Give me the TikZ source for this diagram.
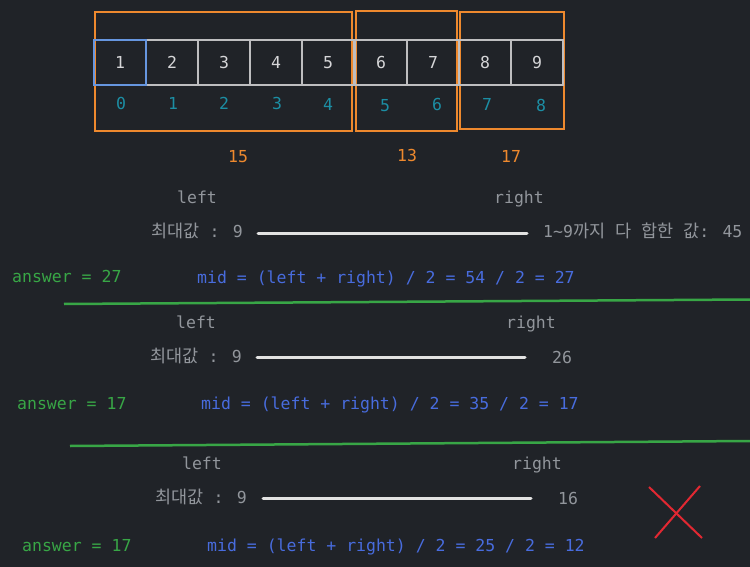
\documentclass[tikz,border=0pt]{standalone}
\usepackage{fontspec}
\newfontfamily\mono{DejaVu Sans Mono}
\newfontfamily\kr[Scale=1.06]{Noto Sans CJK KR}
\definecolor{bg}{RGB}{32,35,40}
\definecolor{orng}{RGB}{238,137,46}
\definecolor{cellgray}{RGB}{190,190,192}
\definecolor{cellblue}{RGB}{102,150,224}
\definecolor{cellnum}{RGB}{214,214,216}
\definecolor{teal}{RGB}{28,142,164}
\definecolor{lbl}{RGB}{146,150,156}
\definecolor{grn}{RGB}{56,166,70}
\definecolor{blu}{RGB}{72,108,222}
\definecolor{barc}{RGB}{226,226,226}
\definecolor{redx}{RGB}{226,40,50}
\tikzset{
  txt/.style={font=\mono\fontsize{16.5}{18}\selectfont, inner sep=0pt, text height=12pt, text depth=0pt},
  cellbox/.style={draw=cellgray, line width=2.5pt, minimum width=52pt, minimum height=45pt, inner sep=0pt, text=cellnum, txt},
  idx/.style={txt, text=teal},
  obox/.style={draw=orng, line width=2.5pt},
  osum/.style={txt, text=orng},
  lbltxt/.style={txt, text=lbl},
  anstxt/.style={txt, text=grn, anchor=west},
  midtxt/.style={txt, text=blu, anchor=west},
  bar/.style={draw=barc, line width=3pt, line cap=round},
  sep/.style={draw=grn, line width=2.5pt},
  cross/.style={draw=redx, line width=2pt},
}
\begin{document}
\begin{tikzpicture}[x=1pt,y=-1pt]
\fill[bg] (0,0) rectangle (750,567);
\useasboundingbox (0,0) rectangle (750,567);
% orange groups
\draw[obox] (95,12) rectangle (352,131);
\draw[obox] (356,11) rectangle (457,131);
\draw[obox] (460,12) rectangle (564,129);
% cells
\node[cellbox] (c1) at (120,62.5) {1};
\node[cellbox] (c2) at (172,62.5) {2};
\node[cellbox] (c3) at (224,62.5) {3};
\node[cellbox] (c4) at (276,62.5) {4};
\node[cellbox] (c5) at (328,62.5) {5};
\node[cellbox] (c6) at (381,62.5) {6};
\node[cellbox] (c7) at (433,62.5) {7};
\node[cellbox] (c8) at (485,62.5) {8};
\node[cellbox] (c9) at (537,62.5) {9};
\node[cellbox, draw=cellblue] (c1b) at (120,62.5) {};
% indices
\node[idx] (i0) at (121,104) {0};
\node[idx] (i1) at (173,104) {1};
\node[idx] (i2) at (224,104) {2};
\node[idx] (i3) at (277,104) {3};
\node[idx] (i4) at (328,105) {4};
\node[idx] (i5) at (385,106) {5};
\node[idx] (i6) at (437,105) {6};
\node[idx] (i7) at (487,105) {7};
\node[idx] (i8) at (541,106) {8};
% group sums
\node[osum] (s1) at (238,157) {15};
\node[osum] (s2) at (407,156) {13};
\node[osum] (s3) at (511,157) {17};
% ---- row 1
\node[lbltxt] (l1) at (197,198) {left};
\node[lbltxt] (r1) at (519,198) {right};
\node[lbltxt, anchor=east] (m1) at (243,231) {{\kr 최대값} : 9};
\coordinate (b1a) at (258,233);
\coordinate (b1b) at (527,233);
\draw[bar] (b1a) -- (b1b);
\node[lbltxt, anchor=west] (t1) at (543,231) {1\textasciitilde9{\kr 까지} {\kr 다} {\kr 합한} {\kr 값}: 45};
\node[anstxt] (a1) at (12,276) {answer = 27};
\node[midtxt] (d1) at (197,277) {mid = (left + right) / 2 = 54 / 2 = 27};
\coordinate (g1a) at (64,304);
\coordinate (g1b) at (750,299.5);
\draw[sep] (g1a) -- (g1b);
% ---- row 2
\node[lbltxt] (l2) at (196,322) {left};
\node[lbltxt] (r2) at (531,322) {right};
\node[lbltxt, anchor=east] (m2) at (242,356) {{\kr 최대값} : 9};
\coordinate (b2a) at (257,357);
\coordinate (b2b) at (525,357);
\draw[bar] (b2a) -- (b2b);
\node[lbltxt] (t2) at (562,357) {26};
\node[anstxt] (a2) at (17,403) {answer = 17};
\node[midtxt] (d2) at (201,403) {mid = (left + right) / 2 = 35 / 2 = 17};
\coordinate (g2a) at (70,446);
\coordinate (g2b) at (750,441);
\draw[sep] (g2a) -- (g2b);
% ---- row 3
\node[lbltxt] (l3) at (202,463) {left};
\node[lbltxt] (r3) at (537,463) {right};
\node[lbltxt, anchor=east] (m3) at (247,497) {{\kr 최대값} : 9};
\coordinate (b3a) at (263,498);
\coordinate (b3b) at (531,498);
\draw[bar] (b3a) -- (b3b);
\node[lbltxt] (t3) at (568,498) {16};
\node[anstxt] (a3) at (22,545) {answer = 17};
\node[midtxt] (d3) at (207,545) {mid = (left + right) / 2 = 25 / 2 = 12};
% red cross
\coordinate (x1a) at (649,487);
\coordinate (x1b) at (702,538);
\coordinate (x2a) at (700,486);
\coordinate (x2b) at (655,538);
\draw[cross] (x1a) -- (x1b);
\draw[cross] (x2a) -- (x2b);
\end{tikzpicture}
\end{document}
